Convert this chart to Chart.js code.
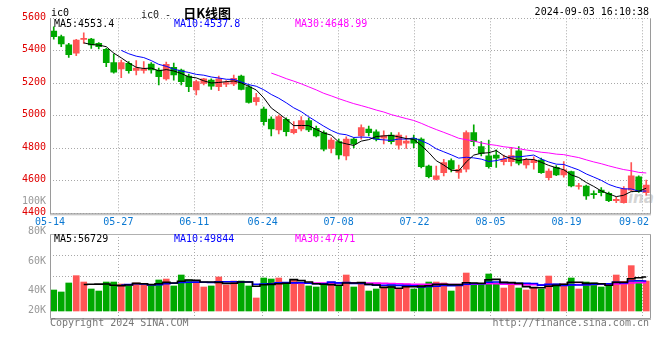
<!DOCTYPE html>
<html><head><meta charset="utf-8">
<script src="https://cdn.jsdelivr.net/npm/chart.js@4.4.1/dist/chart.umd.min.js"></script>
<style>
html,body{margin:0;padding:0;background:#fff;}
#wrap{position:relative;width:660px;height:360px;overflow:hidden;font-family:"DejaVu Sans Mono","Liberation Mono",monospace;font-size:10px;}
canvas{position:absolute;left:0;top:0;}
.t{position:absolute;white-space:pre;line-height:12px;height:12px;}
.wm{position:absolute;left:619px;top:189px;font:italic bold 15px "DejaVu Sans",sans-serif;color:#d4d4d4;}
</style></head><body>
<div id="wrap">
<div class="wm">sina</div>
<canvas id="main" width="660" height="360"></canvas>
<canvas id="vol" width="660" height="360"></canvas>
</div>
<script>
// ---------- data ----------
const dates = ['05-14','05-15','05-16','05-17','05-20','05-21','05-22','05-23','05-24','05-27',
'05-28','05-29','05-30','05-31','06-03','06-04','06-05','06-06','06-07','06-11',
'06-12','06-13','06-14','06-17','06-18','06-19','06-20','06-21','06-24','06-25',
'06-26','06-27','06-28','07-01','07-02','07-03','07-04','07-05','07-08','07-09',
'07-10','07-11','07-12','07-15','07-16','07-17','07-18','07-19','07-22','07-23',
'07-24','07-25','07-26','07-29','07-30','07-31','08-01','08-02','08-05','08-06',
'08-07','08-08','08-09','08-12','08-13','08-14','08-15','08-16','08-19','08-20',
'08-21','08-22','08-23','08-26','08-27','08-28','08-29','08-30','09-02','09-03'];
const open = [5522,5487,5436,5385,5470,5472,5446,5409,5327,5288,
5323,5279,5279,5319,5282,5227,5299,5282,5245,5159,
5200,5220,5180,5194,5196,5245,5179,5087,5042,4980,
4913,4979,4896,4919,4970,4923,4896,4800,4841,4753,
4857,4876,4919,4902,4862,4882,4820,4831,4862,4856,
4691,4609,4650,4724,4652,4671,4896,4810,4753,4759,
4718,4718,4785,4697,4712,4728,4619,4683,4636,4656,
4565,4568,4521,4543,4523,4478,4465,4543,4625,4527];
const high = [5548,5497,5446,5471,5511,5477,5450,5415,5380,5343,
5333,5340,5333,5327,5294,5331,5325,5288,5257,5220,
5231,5227,5245,5216,5251,5251,5190,5138,5054,4993,
5005,4987,4964,4995,4987,4937,4907,4864,4857,4870,
4864,4944,4937,4913,4908,4896,4896,4876,4882,4864,
4697,4691,4732,4735,4697,4907,4944,4841,4851,4790,
4759,4806,4810,4739,4748,4740,4673,4693,4718,4660,
4585,4574,4539,4558,4531,4499,4564,4712,4630,4605];
const low = [5471,5425,5360,5370,5446,5415,5411,5302,5262,5235,
5262,5251,5262,5262,5190,5220,5220,5190,5148,5128,
5190,5163,5155,5180,5186,5159,5077,5066,4943,4876,
4888,4876,4888,4907,4902,4870,4784,4771,4734,4728,
4802,4856,4876,4845,4827,4827,4794,4800,4804,4679,
4617,4605,4630,4654,4615,4654,4814,4753,4677,4683,
4697,4691,4697,4677,4671,4646,4605,4632,4623,4562,
4548,4486,4492,4507,4472,4465,4462,4537,4529,4512];
const close = [5487,5442,5376,5466,5473,5436,5425,5327,5268,5327,
5278,5293,5289,5282,5241,5317,5251,5210,5179,5210,
5227,5183,5227,5204,5231,5163,5083,5112,4964,4919,
4995,4902,4917,4970,4913,4876,4794,4851,4759,4857,
4827,4927,4896,4856,4876,4841,4882,4845,4831,4687,
4625,4630,4712,4671,4671,4896,4841,4769,4687,4739,
4734,4755,4708,4728,4728,4650,4660,4636,4667,4568,
4570,4507,4515,4527,4478,4486,4550,4630,4533,4574];
const volume = [35000,31700,46700,58900,48300,36700,33300,48300,48300,45000,
41700,46700,45000,41700,51700,53300,41700,60000,51700,48300,
40000,41700,56700,43300,50000,50000,41700,21700,55000,53300,
55000,46700,51700,46700,41700,40000,43300,48300,41700,60000,
40000,46700,33300,36700,40000,43300,36700,45000,36700,43300,
48300,48300,46700,33300,43300,63300,46700,45000,61700,46700,
38300,45000,38300,35000,38300,36700,58300,45000,45000,55000,
36700,48300,46700,40000,43300,60000,49400,75600,48900,50000];
const xTickLabels = ['05-14','05-27','06-11','06-24','07-08','07-22','08-05','08-19','09-02'];
const priceTicks = [4400,4600,4800,5000,5200,5400,5600];
const volTickLabels = ['100K','80K','60K','40K','20K'];
const volGridVals = [58300,91700];
const mainLegend = ['MA5:4553.4','MA10:4537.8','MA30:4648.99'];
const volLegend = ['MA5:56729','MA10:49844','MA30:47471'];

// ---------- layout / style ----------
const volTickY = [200.7,231,260.7,290,310];
const legendX = [54,174,295];
const maColors = ['#000000','#0000ff','#ff00ff'];
const RED = '#ff5555', GREEN = '#00a800';
const MONO = '"DejaVu Sans Mono","Liberation Mono",monospace';
const PLOT_L = 50, PLOT_R = 650;

const N = dates.length;
const xs = dates.map((_, i) => i + 0.5);
const colors = close.map((c, i) => c >= open[i] ? RED : GREEN);
function ma(arr, n) {
  return arr.map((_, i) => {
    if (i < n - 1) return null;
    let s = 0; for (let k = i - n + 1; k <= i; k++) s += arr[k];
    return s / n;
  });
}
const gridVals = xTickLabels.map(l => dates.indexOf(l) * N / (N - 1));

function xScale() {
  return {
    type: 'linear', min: 0, max: N, offset: false,
    afterBuildTicks: s => { s.ticks = gridVals.map(v => ({ value: v })); },
    ticks: { display: false },
    grid: { color: '#a8a8a8', drawTicks: false, lineWidth: 1, offset: false },
    border: { display: false, dash: [1, 2] },
    afterFit: s => { s.height = 0; }
  };
}

const framePlugin = {
  id: 'frame',
  afterDraw(chart, args, opts) {
    const { ctx, chartArea: a } = chart;
    ctx.save();
    ctx.strokeStyle = '#9a9a9a';
    ctx.lineWidth = 1;
    ctx.beginPath();
    ctx.moveTo(a.left + 0.5, a.top);
    ctx.lineTo(a.left + 0.5, a.bottom + 0.5);
    ctx.lineTo(a.right + 0.5, a.bottom + 0.5);
    ctx.lineTo(a.right + 0.5, a.top);
    ctx.stroke();
    ctx.beginPath();
    ctx.moveTo(a.left, a.bottom + 1.5); ctx.lineTo(a.right + 1, a.bottom + 1.5);
    ctx.strokeStyle = '#b8b8b8';
    ctx.stroke();
    if (opts.solidTop) {
      ctx.strokeStyle = '#b0b0b0';
      ctx.beginPath(); ctx.moveTo(a.left, a.top + 0.5); ctx.lineTo(a.right + 1, a.top + 0.5); ctx.stroke();
    }
    if (opts.xLabels) {
      const xsScale = chart.scales.x;
      ctx.font = '10px ' + MONO;
      ctx.fillStyle = '#0a78d2';
      ctx.textBaseline = 'middle';
      ctx.textAlign = 'center';
      xTickLabels.forEach((l, k) => {
        const w = ctx.measureText(l).width;
        let px = xsScale.getPixelForValue(gridVals[k]);
        if (px + w / 2 > a.right - 1) px = a.right - 1 - w / 2;
        ctx.fillText(l, px, opts.labelY);
      });
    }
    ctx.restore();
  }
};

const common = {
  responsive: false, animation: false, devicePixelRatio: 1, events: [],
  plugins: { legend: { display: false }, tooltip: { enabled: false } }
};

// ---------- main (price) chart ----------
new Chart(document.getElementById('main'), {
  type: 'bar',
  data: {
    datasets: [
      { type: 'line', data: xs.map((x, i) => ({ x, y: ma(close, 5)[i] })), borderColor: maColors[0], borderWidth: 1, pointRadius: 0, tension: 0, order: 0 },
      { type: 'line', data: xs.map((x, i) => ({ x, y: ma(close, 10)[i] })), borderColor: maColors[1], borderWidth: 1, pointRadius: 0, tension: 0, order: 0 },
      { type: 'line', data: xs.map((x, i) => ({ x, y: ma(close, 30)[i] })), borderColor: maColors[2], borderWidth: 1, pointRadius: 0, tension: 0, order: 0 },
      { type: 'bar', data: xs.map((x, i) => ({ x, y: [open[i], close[i]] })), backgroundColor: colors, borderWidth: 0, barThickness: 6, grouped: false, minBarLength: 1, order: 1 },
      { type: 'bar', data: xs.map((x, i) => ({ x, y: [low[i], high[i]] })), backgroundColor: colors, borderWidth: 0, barThickness: 1, grouped: false, order: 2 }
    ]
  },
  options: Object.assign({}, common, {
    layout: { padding: { top: 18.3, bottom: 360 - 213.3, left: 0, right: 660 - PLOT_R }, autoPadding: false },
    scales: {
      x: xScale(),
      y: {
        type: 'linear', position: 'left', min: priceTicks[0], max: priceTicks[priceTicks.length - 1],
        afterBuildTicks: s => { s.ticks = priceTicks.map(v => ({ value: v })); },
        ticks: { color: '#e00000', font: { family: MONO, size: 10 }, padding: 4, callback: v => String(v), labelOffset: -1 },
        grid: { color: '#a8a8a8', drawTicks: false, lineWidth: 1 },
        border: { display: false, dash: [1, 2] },
        afterFit: s => { s.width = PLOT_L; }
      }
    },
    plugins: Object.assign({}, common.plugins, { frame: { xLabels: true, labelY: 222 } })
  }),
  plugins: [framePlugin]
});

// ---------- volume chart ----------
const volMin = -11667, volMax = 128333;
new Chart(document.getElementById('vol'), {
  type: 'bar',
  data: {
    datasets: [
      { type: 'line', data: xs.map((x, i) => ({ x, y: ma(volume, 5)[i] })), borderColor: maColors[0], borderWidth: 1.6, pointRadius: 0, stepped: 'middle', order: 0 },
      { type: 'line', data: xs.map((x, i) => ({ x, y: ma(volume, 10)[i] })), borderColor: maColors[1], borderWidth: 1.6, pointRadius: 0, stepped: 'middle', order: 0 },
      { type: 'line', data: xs.map((x, i) => ({ x, y: ma(volume, 30)[i] })), borderColor: maColors[2], borderWidth: 1.6, pointRadius: 0, stepped: 'middle', order: 0 },
      { type: 'bar', data: xs.map((x, i) => ({ x, y: volume[i] })), backgroundColor: colors, borderWidth: 0, barThickness: 6, grouped: false, order: 1 }
    ]
  },
  options: Object.assign({}, common, {
    layout: { padding: { top: 234, bottom: 360 - 318, left: 0, right: 660 - PLOT_R }, autoPadding: false },
    scales: {
      x: xScale(),
      y: {
        type: 'linear', position: 'left', min: volMin, max: volMax,
        afterBuildTicks: s => { s.ticks = volGridVals.map(v => ({ value: v })); },
        ticks: { display: false },
        grid: { color: '#a8a8a8', drawTicks: false, lineWidth: 1 },
        border: { display: false, dash: [1, 2] },
        afterFit: s => { s.width = PLOT_L; }
      }
    },
    plugins: Object.assign({}, common.plugins, { frame: { solidTop: true } })
  }),
  plugins: [framePlugin]
});

// ---------- texts ----------
const wrap = document.getElementById('wrap');
function addText(txt, x, yc, color, align, extra) {
  const d = document.createElement('div');
  d.className = 't';
  d.textContent = txt;
  d.style.color = color;
  d.style.top = (yc - 6) + 'px';
  if (align === 'right') d.style.right = (660 - x) + 'px'; else d.style.left = x + 'px';
  if (extra) Object.assign(d.style, extra);
  wrap.appendChild(d);
  return d;
}
addText('ic0', 51, 12.5, '#000');
addText('2024-09-03 16:10:38', 649, 11.5, '#000', 'right');
const title = document.createElement('div');
title.className = 't';
title.style.left = '141px'; title.style.top = '3px'; title.style.height = '16px'; title.style.lineHeight = '16px';
title.innerHTML = '<span style="color:#222">ic0 -  </span><span style="font:bold 13px \'Noto Sans CJK SC\',sans-serif;color:#000">日K线图</span>';
wrap.appendChild(title);
mainLegend.forEach((t, k) => addText(t, legendX[k], 24, maColors[k]));
volLegend.forEach((t, k) => addText(t, legendX[k], 238.5, maColors[k]));
volTickLabels.forEach((t, k) => addText(t, 46, volTickY[k], '#999', 'right'));
addText('Copyright 2024 SINA.COM', 50, 323, '#777');
addText('http://finance.sina.com.cn', 649, 323, '#777', 'right');
</script>
</body></html>
